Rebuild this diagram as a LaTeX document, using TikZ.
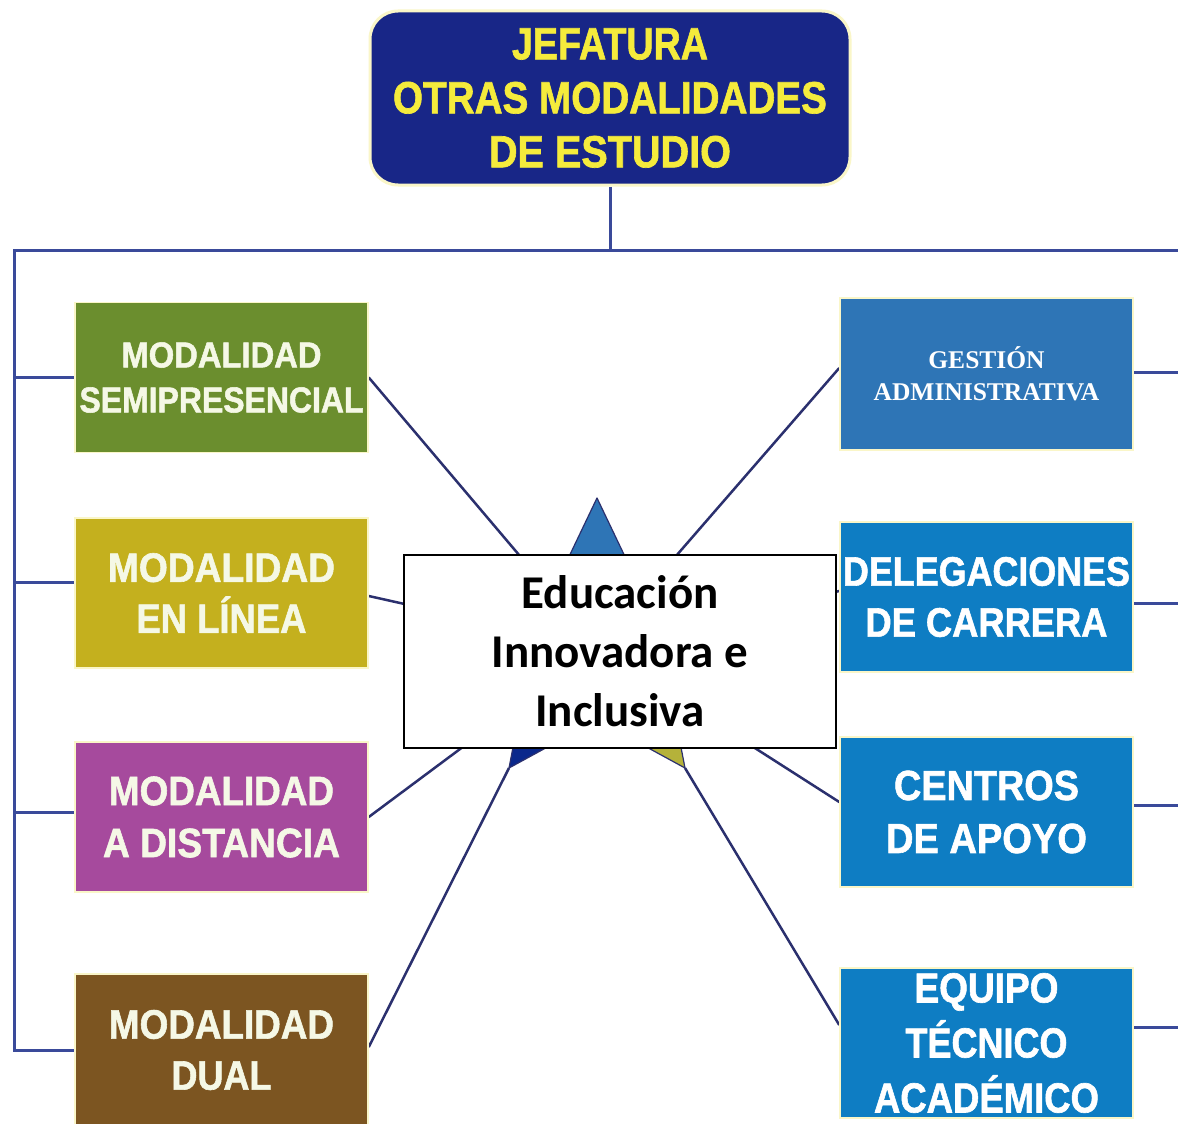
\documentclass[tikz,border=0pt]{standalone}
\usepackage{fontspec}
\usepackage{graphicx}
\newfontfamily\hfont[BoldFeatures={FakeBold=1.5}]{Liberation Sans}
\newfontfamily\calfont{Carlito}
\newfontfamily\serfont{Liberation Serif}
\newcommand\wl[2]{\resizebox{#1pt}{\height}{#2}}
\definecolor{topnavy}{RGB}{24,38,135}
\definecolor{yel}{RGB}{245,235,60}
\definecolor{glow}{RGB}{250,246,200}
\definecolor{cgreen}{RGB}{107,142,46}
\definecolor{colive}{RGB}{196,176,30}
\definecolor{cmag}{RGB}{166,74,157}
\definecolor{cbrown}{RGB}{124,85,33}
\definecolor{cgest}{RGB}{46,117,182}
\definecolor{cblue}{RGB}{14,125,195}
\definecolor{cream}{RGB}{245,248,230}
\definecolor{linenavy}{RGB}{43,48,110}
\definecolor{busnavy}{RGB}{58,74,154}
\definecolor{stbl}{RGB}{10,40,140}
\definecolor{stol}{RGB}{181,178,58}
\definecolor{stleft}{RGB}{120,60,150}
\definecolor{stright}{RGB}{107,142,46}
\pgfdeclarelayer{back}
\pgfdeclarelayer{lines}
\pgfsetlayers{back,lines,main}
\begin{document}
\begin{tikzpicture}[x=1pt,y=-1pt,
  lbox/.style={rectangle, minimum width=293pt, minimum height=150pt, inner sep=0pt,
    draw=glow, line width=1.5pt, align=center, text=cream,
    font={\hfont\bfseries\fontsize{41}{51}\selectfont}},
  rbox/.style={lbox, fill=cblue, text=white},
  conn/.style={draw=linenavy, line width=2.5pt},
  bus/.style={draw=busnavy, line width=3pt},
  starpt/.style={draw=linenavy, line width=1.2pt, line join=round}]
\begin{pgfonlayer}{back}
\fill[white] (0,0) rectangle (1178,1124);
\end{pgfonlayer}
\useasboundingbox (0,0) rectangle (1178,1124);

% top node
\node[rectangle, rounded corners=28pt, fill=topnavy, draw=glow, line width=3pt,
  minimum width=480pt, minimum height=174pt, inner sep=0pt, align=center, text=yel,
  font={\hfont\bfseries\fontsize{45}{54}\selectfont}] (top) at (610,98)
  {\wl{196}{JEFATURA}\\\wl{434}{OTRAS MODALIDADES}\\\wl{242}{DE ESTUDIO}};

\coordinate (busL) at (14,250);
\coordinate (busR) at (1178,250);
\coordinate (sc) at (597,647);
% star outer points
\coordinate (so1) at (597,498);
\coordinate (so2) at (455,601);
\coordinate (so3) at (509,768);
\coordinate (so4) at (685,768);
\coordinate (so5) at (739,601);
% star inner points
\coordinate (si1) at (640,588);
\coordinate (si2) at (554,588);
\coordinate (si3) at (528,670);
\coordinate (si4) at (597,720);
\coordinate (si5) at (666,670);

% left boxes
\node[lbox, fill=cgreen, font={\hfont\bfseries\fontsize{36}{45}\selectfont}] (semi) at (221.5,377.5)
  {\wl{200}{MODALIDAD}\\\wl{284}{SEMIPRESENCIAL}};
\node[lbox, fill=colive] (linea) at (221.5,593)
  {\wl{227}{MODALIDAD}\\\wl{170}{EN LÍNEA}};
\node[lbox, fill=cmag, font={\hfont\bfseries\fontsize{41}{52}\selectfont}] (dist) at (221.5,817)
  {\wl{225}{MODALIDAD}\\\wl{237}{A DISTANCIA}};
\node[lbox, fill=cbrown, minimum height=152pt] (dual) at (221.5,1050)
  {\wl{225}{MODALIDAD}\\\wl{100}{DUAL}};

% right boxes
\node[rbox, fill=cgest, minimum height=152pt, font={\serfont\bfseries\fontsize{25.5}{32}\selectfont}] (gest) at (986.5,374)
  {GESTIÓN\\ADMINISTRATIVA};
\node[rbox] (deleg) at (986.5,597)
  {\wl{287}{DELEGACIONES}\\\wl{242}{DE CARRERA}};
\node[rbox, font={\hfont\bfseries\fontsize{42}{53}\selectfont}] (centros) at (986.5,812)
  {\wl{185}{CENTROS}\\\wl{201}{DE APOYO}};
\node[rbox, font={\hfont\bfseries\fontsize{42}{55}\selectfont}] (equipo) at (986.5,1043)
  {\wl{144}{EQUIPO}\\\wl{162}{TÉCNICO}\\\wl{225}{ACADÉMICO}};

% centre box
\node[rectangle, fill=white, draw=black, line width=2.5pt, minimum width=432pt,
  minimum height=193pt, inner sep=0pt, align=center,
  font={\calfont\bfseries\fontsize{47}{59}\selectfont}] (centre) at (620,651.5)
  {Educación\\Innovadora e\\Inclusiva};

\coordinate (busJ) at (top.south |- busL);

\begin{pgfonlayer}{lines}
% tree
\draw[bus] (top.south) -- (busJ);
\draw[bus] (busR) -- (busL) |- (dual.west);
\draw[bus] (busL) |- (semi.west);
\draw[bus] (busL) |- ([yshift=11pt]linea.west);
\draw[bus] (busL) |- ([yshift=5pt]dist.west);
\draw[bus] ([yshift=2pt]gest.east) -- ([yshift=2pt]gest.east -| busR);
\draw[bus] ([yshift=-6pt]deleg.east) -- ([yshift=-6pt]deleg.east -| busR);
\draw[bus] ([yshift=7pt]centros.east) -- ([yshift=7pt]centros.east -| busR);
\draw[bus] ([yshift=16pt]equipo.east) -- ([yshift=16pt]equipo.east -| busR);
% connectors
\draw[conn] (semi.east) -- (sc);
\draw[conn] ([yshift=-3pt]linea.east) -- (sc);
\draw[conn] (dist.east) -- (sc);
\draw[conn] ([yshift=3pt]dual.east) -- (so3);
\draw[conn] ([yshift=6pt]gest.west) -- (sc);
\draw[conn] ([yshift=6pt]deleg.west) -- (sc);
\draw[conn] ([yshift=10pt]centros.west) -- (sc);
\draw[conn] ([yshift=18pt]equipo.west) -- (so4);
% star
\filldraw[starpt, fill=cgest] (sc) -- (si2) -- (so1) -- (si1) -- cycle;
\filldraw[starpt, fill=stleft] (sc) -- (si3) -- (so2) -- (si2) -- cycle;
\filldraw[starpt, fill=stbl] (sc) -- (si4) -- (so3) -- (si3) -- cycle;
\filldraw[starpt, fill=stol] (sc) -- (si5) -- (so4) -- (si4) -- cycle;
\filldraw[starpt, fill=stright] (sc) -- (si1) -- (so5) -- (si5) -- cycle;
\end{pgfonlayer}
\end{tikzpicture}
\end{document}
